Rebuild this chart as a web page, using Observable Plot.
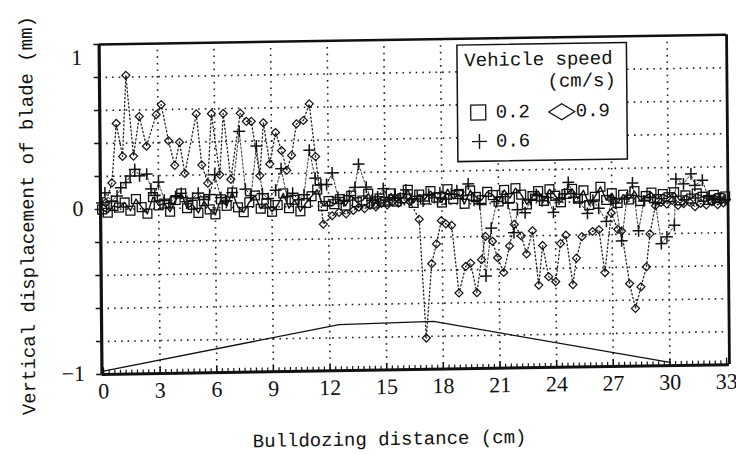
<!DOCTYPE html>
<html><head><meta charset="utf-8">
<script src="https://cdn.jsdelivr.net/npm/d3@7"></script>
<script src="https://cdn.jsdelivr.net/npm/@observablehq/plot@0.6"></script>
<style>
html,body{margin:0;padding:0;background:#fff;overflow:hidden;width:736px;height:454px}
#wrap{position:relative;width:736px;height:454px;transform-origin:101.5px 374px;transform:rotate(-0.5deg) skewY(-0.4deg)}
#wrap svg.plot{overflow:visible}
#legend{position:absolute;left:459px;top:50px;width:171px;height:118px;overflow:visible}
</style></head>
<body>
<div id="wrap"></div>
<script>
// Bulldozing distance (cm) and vertical displacement of blade (mm), per vehicle speed
const dist02 = [0,0.3,0.6,0.9,1.2,1.5,1.8,2.1,2.4,2.7,3,3.3,3.6,3.9,4.2,4.5,4.8,5.1,5.4,5.7,6,6.3,6.6,6.9,7.2,7.5,7.8,8.1,8.4,8.7,9,9.3,9.6,9.9,10.2,10.5,10.8,11.1,11.4,11.7,12,12.3,12.6,12.9,13.2,13.5,13.8,14.1,14.4,14.7,15,15.3,15.6,15.9,16.2,16.5,16.8,17.1,17.4,17.7,18,18.3,18.6,18.9,19.2,19.5,19.8,20.1,20.4,20.7,21,21.3,21.6,21.9,22.2,22.5,22.8,23.1,23.4,23.7,24,24.3,24.6,24.9,25.2,25.5,25.8,26.1,26.4,26.7,27,27.3,27.6,27.9,28.2,28.5,28.8,29.1,29.4,29.7,30,30.3,30.6,30.9,31.2,31.5,31.8,32.1,32.4,32.7,33];
const disp02 = [0.00,-0.02,0.02,0.01,0.04,-0.01,0.06,0.01,-0.03,0.07,0.02,
  0.03,-0.02,0.05,0.09,0.00,0.02,-0.03,0.04,-0.01,-0.04,
  0.05,0.01,0.09,0.00,-0.03,0.03,0.07,-0.01,0.02,-0.03,
  0.01,0.08,-0.01,0.04,-0.03,0.02,0.06,0.10,0.00,0.03,
  0.01,0.04,0.00,0.06,0.02,0.03,0.07,0.01,0.04,0.02,
  0.07,0.02,0.04,0.09,0.01,0.06,0.03,0.08,0.04,0.01,
  0.09,0.03,0.06,0.00,0.08,0.04,0.02,0.07,0.05,0.01,
  0.08,0.03,0.09,0.05,-0.01,0.04,0.07,0.01,0.08,0.04,
  0.00,0.05,0.08,0.02,0.07,-0.02,0.03,0.09,0.01,0.05,
  -0.01,0.04,0.01,0.06,0.00,0.03,0.05,0.01,0.04,0.02,
  0.05,0.00,0.03,0.01,0.04,0.02,0.00,0.03,0.01,0.02];

const dist06 = [0,0.16,0.5,0.8,1.0,1.27,1.5,1.75,2.0,2.38,2.6,2.8,3.0,3.3,3.6,3.9,4.2,4.5,4.8,5.1,5.4,5.7,5.98,6.3,6.6,6.9,7.3,7.6,7.9,8.2,8.5,8.8,9.2,9.5,9.8,10.1,10.4,10.7,11.0,11.3,11.6,11.9,12.2,12.5,12.8,13.1,13.4,13.6,14.0,14.3,14.6,14.9,15.2,15.5,15.8,16.1,16.4,16.7,17.0,17.3,17.6,17.9,18.2,18.5,18.8,19.1,19.4,19.7,20.0,20.3,20.6,20.9,21.2,21.5,21.8,22.0,22.4,22.7,23.0,23.3,23.6,23.9,24.2,24.5,24.7,25.0,25.3,25.7,26.0,26.3,26.7,27.0,27.2,27.5,27.8,28.1,28.4,28.7,29.0,29.3,29.6,29.9,30.3,30.4,30.8,31.2,31.4,31.8,32.1,32.4,32.7,33.0];
const disp06 = [0.04,0.10,0.05,0.08,0.13,0.16,0.20,0.24,0.20,0.21,0.12,0.08,0.16,0.05,0.03,0.07,0.09,0.04,0.06,0.09,0.05,0.08,0.20,0.06,0.04,0.09,0.46,0.11,0.07,0.37,0.08,0.05,0.10,0.23,0.06,0.08,0.04,0.07,0.34,0.17,0.13,0.13,0.20,0.05,0.03,0.06,0.11,0.25,0.11,0.03,0.05,0.10,0.03,0.06,0.04,0.09,0.03,0.05,0.02,0.06,0.04,0.07,0.03,0.06,0.08,0.05,0.12,0.02,0.00,-0.44,-0.15,0.01,0.04,0.00,-0.18,-0.04,-0.06,0.02,0.05,0.01,0.03,-0.06,0.02,0.05,0.12,0.03,0.00,-0.07,0.01,-0.04,-0.12,0.01,-0.01,-0.24,0.02,0.11,-0.18,0.00,0.02,-0.01,-0.26,-0.22,-0.15,0.13,0.10,0.16,0.09,0.12,0.02,0.00,0.01,0.00];

const dist09 = [0.2,0.53,0.79,1.11,1.32,1.69,2.01,2.38,2.91,3.18,3.55,3.87,4.13,4.40,5.03,5.30,5.61,5.83,6.25,6.46,6.83,7.36,7.68,7.94,8.37,8.58,8.90,9.22,9.53,9.80,10.06,10.33,10.70,11.02,11.33,11.71,12.18,12.55,12.92,13.3,13.6,13.9,14.2,14.5,14.8,15.1,15.4,15.7,16.0,16.3,16.79,17.11,17.43,17.69,17.96,18.2,18.5,18.86,19.23,19.49,19.81,20.07,20.29,20.66,20.92,21.24,21.56,21.82,22.19,22.46,22.78,23.09,23.31,23.62,23.99,24.26,24.55,24.9,25.1,25.4,25.96,26.3,26.6,26.96,27.3,27.5,27.9,28.2,28.5,28.8,29.0,29.3,29.6,29.9,30.2,30.5,30.8,31.1,31.4,31.7,32.0,32.3,32.6,32.9];
const disp09 = [0.04,0.16,0.52,0.32,0.81,0.32,0.56,0.38,0.57,0.63,0.41,0.26,0.40,0.21,0.57,0.26,0.15,0.57,0.20,0.57,0.17,0.57,0.52,0.52,0.19,0.51,0.26,0.45,0.34,0.22,0.31,0.50,0.52,0.62,0.30,-0.11,-0.06,-0.04,-0.05,-0.03,-0.01,-0.02,0.00,-0.01,0.01,0.00,0.02,0.01,0.03,0.02,-0.09,-0.81,-0.36,-0.24,-0.10,-0.12,-0.13,-0.54,-0.38,-0.36,-0.54,-0.34,-0.20,-0.23,-0.33,-0.42,-0.26,-0.13,-0.20,-0.31,-0.17,-0.50,-0.26,-0.45,-0.48,-0.25,-0.20,-0.50,-0.34,-0.21,-0.18,-0.17,-0.43,-0.07,-0.17,-0.18,-0.50,-0.65,-0.52,-0.40,-0.20,-0.03,-0.01,-0.02,0.00,-0.03,-0.02,-0.01,-0.04,-0.02,-0.03,-0.01,-0.03,-0.02];

// soil surface profile drawn under the data
const profileDist = [0, 12.5, 17.5, 30];
const profileDisp = [-0.98, -0.72, -0.71, -0.98];

const xTicks = [0,3,6,9,12,15,18,21,24,27,30,33];
const xGrid = [3,6,9,12,15,18,21,24,27,30];
const yTicks = [-1,-0.8,-0.6,-0.4,-0.2,0,0.2,0.4,0.6,0.8,1];
const yGrid = [-0.8,-0.6,-0.4,-0.2,0,0.2,0.4,0.6,0.8];
const xMinor = d3.range(0, 33.01, 0.3);

const xTitle = "Bulldozing distance (cm)";
const yTitle = "Vertical displacement of blade (mm)";

const s02 = dist02.map((d, i) => ({d, v: disp02[i]}));
const s06 = dist06.map((d, i) => ({d, v: disp06[i]}));
const s09 = dist09.map((d, i) => ({d, v: disp09[i]}));
const profile = profileDist.map((d, i) => ({d, v: profileDisp[i]}));

const ink = "#111";
const mono = "Liberation Mono, DejaVu Sans Mono, monospace";
const serif = "Liberation Serif, DejaVu Serif, serif";
const grid = {stroke: "#222", strokeWidth: 1.6, strokeDasharray: "1.6,5"};

const chart = Plot.plot({
  width: 736,
  height: 454,
  marginLeft: 101.5,
  marginRight: 7,
  marginTop: 44,
  marginBottom: 80,
  style: {overflow: "visible", background: "white"},
  x: {domain: [-0.08, 33.15], axis: null},
  y: {domain: [-1, 1], axis: null},
  marks: [
    Plot.ruleY(yGrid, grid),
    Plot.ruleX(xGrid, grid),
    Plot.line(profile, {x: "d", y: "v", stroke: ink, strokeWidth: 1.3}),
    Plot.line(s09, {x: "d", y: "v", stroke: "#222", strokeWidth: 1.3, strokeDasharray: "1.3,2.6"}),
    Plot.line(s06, {x: "d", y: "v", stroke: "#222", strokeWidth: 0.9, strokeDasharray: "2,2"}),
    Plot.line(s02, {x: "d", y: "v", stroke: ink, strokeWidth: 1.4}),
    Plot.dot(s02, {x: "d", y: "v", symbol: "square", r: 5.0, stroke: ink, fill: "none", strokeWidth: 1.3}),
    Plot.dot(s06, {x: "d", y: "v", symbol: "plus", r: 3.9, stroke: ink, strokeWidth: 1.5}),
    Plot.dot(s09, {x: "d", y: "v", symbol: "diamond2", r: 3.6, stroke: ink, fill: "none", strokeWidth: 1.2}),
    // frame
    Plot.ruleX([-0.08], {stroke: ink, strokeWidth: 3.2}),
    Plot.ruleX([33.15], {stroke: ink, strokeWidth: 2.8}),
    Plot.ruleY([-1], {stroke: ink, strokeWidth: 3}),
    Plot.ruleY([1], {stroke: ink, strokeWidth: 2.5}),
    // ticks
    Plot.ruleX(xMinor, {y1: -1, y2: -0.976, stroke: ink, strokeWidth: 1.2}),
    Plot.ruleX(xTicks, {y1: -1, y2: -0.96, stroke: ink, strokeWidth: 1.4}),
    Plot.ruleY(yTicks, {x1: -0.36, x2: -0.08, stroke: ink, strokeWidth: 1.5}),
    // tick labels
    Plot.text(xTicks, {x: d => d, y: -1, dy: 17, text: d => String(d), fontFamily: serif, fontSize: 22, fill: ink}),
    Plot.text([1], {x: -0.08, y: d => d, dx: -17, dy: 13, text: () => "1", textAnchor: "end", fontFamily: serif, fontSize: 22, fill: ink}),
    Plot.text([0, -1], {x: -0.08, y: d => d, dx: -17, dy: -1, text: d => d < 0 ? "\u22121" : String(d), textAnchor: "end", fontFamily: serif, fontSize: 22, fill: ink}),
    // axis titles
    Plot.text([yTitle], {x: -0.08, y: 0, dx: -67, dy: 5, rotate: -90, text: d => d, lineAnchor: "bottom", fontFamily: mono, fontSize: 19, fill: ink}),
    Plot.text([xTitle], {x: 15.12, y: -1, dy: 75, text: d => d, lineAnchor: "bottom", fontFamily: mono, fontSize: 19, fill: ink})
  ]
});

const wrap = document.getElementById("wrap");
wrap.appendChild(chart);

// legend box
const legend = document.createElement("div");
legend.id = "legend";
legend.innerHTML = `
<svg width="171" height="118" xmlns="http://www.w3.org/2000/svg" style="overflow:visible;display:block">
  <rect x="0.75" y="0.75" width="169.5" height="116.5" fill="#fff" stroke="${ink}" stroke-width="1.5"/>
  <g font-family="${mono}" font-size="19" fill="${ink}">
    <text x="8" y="22">Vehicle speed</text>
    <text x="91" y="44">(cm/s)</text>
    <text x="39" y="74">0.2</text>
    <text x="119" y="74">0.9</text>
    <text x="39" y="103">0.6</text>
  </g>
  <rect x="14" y="61" width="15" height="15" fill="none" stroke="${ink}" stroke-width="1.3"/>
  <polygon points="92,69 105,61 118,69 105,77" fill="none" stroke="${ink}" stroke-width="1.3"/>
  <path d="M15,97.5H30M22.5,90V105" stroke="${ink}" stroke-width="1.4" fill="none"/>
</svg>`;
wrap.appendChild(legend);
</script>
</body></html>
